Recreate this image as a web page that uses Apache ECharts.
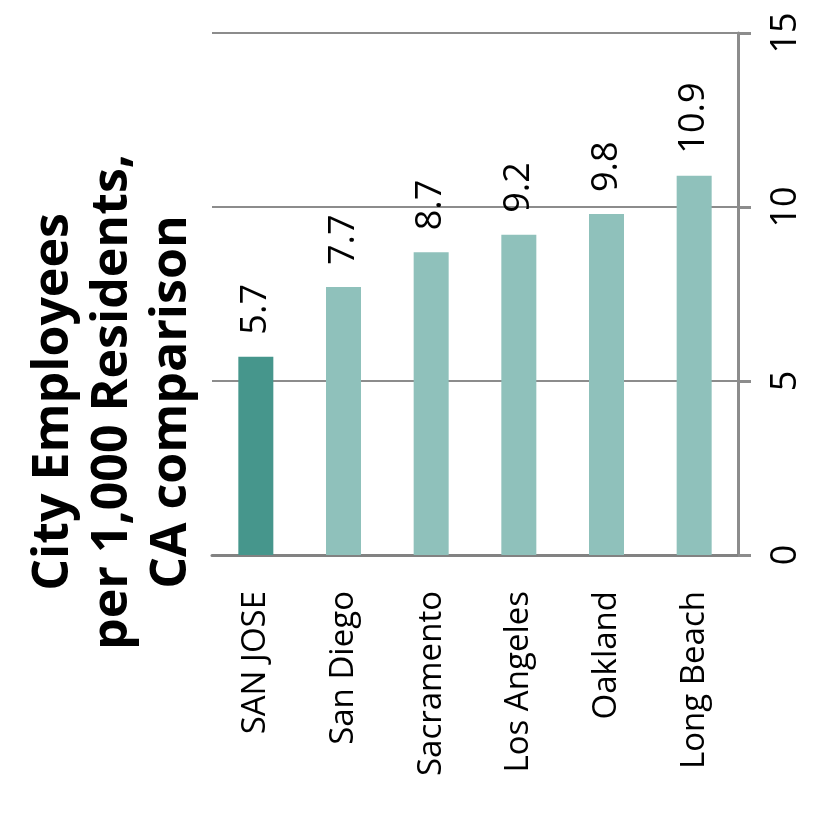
<!DOCTYPE html>
<html>
<head>
<meta charset="utf-8">
<script src="https://cdn.jsdelivr.net/npm/echarts@6/dist/echarts.min.js"></script>
<style>
  html, body { margin: 0; padding: 0; background: #ffffff; }
  #chart { width: 827px; height: 831px; }
</style>
</head>
<body>
<div id="chart"></div>
<script>
// City employees per 1,000 residents, California cities
const categories = ['SAN JOSE', 'San Diego', 'Sacramento', 'Los Angeles', 'Oakland', 'Long Beach'];
const values = [5.7, 7.7, 8.7, 9.2, 9.8, 10.9];
const highlighted = 'SAN JOSE';
const valueMin = 0;
const valueMax = 15;
const valueStep = 5;
const titleLines = ['City Employees', 'per 1,000 Residents,', 'CA comparison'];

const FONT = '"Open Sans", "DejaVu Sans", sans-serif';
const DARK = '#46968c';
const LIGHT = '#8fc1bb';
const GRID_GREY = '#8c8c8c';

const chart = echarts.init(document.getElementById('chart'));

chart.setOption({
  animation: false,
  backgroundColor: '#ffffff',
  grid: { left: 212, right: 89, top: 33, bottom: 276, containLabel: false },
  xAxis: {
    type: 'category',
    data: categories,
    axisLine: { show: true, lineStyle: { color: '#828282', width: 3 } },
    axisTick: { show: false },
    axisLabel: {
      rotate: 90,
      margin: 36,
      fontSize: 33,
      fontFamily: FONT,
      color: '#000000'
    },
    splitLine: { show: false }
  },
  yAxis: {
    type: 'value',
    position: 'right',
    min: valueMin,
    max: valueMax,
    interval: valueStep,
    axisLine: { show: true, lineStyle: { color: GRID_GREY, width: 3 } },
    axisTick: { show: true, length: 13, lineStyle: { color: GRID_GREY, width: 3 } },
    splitLine: { show: true, lineStyle: { color: GRID_GREY, width: 2 } },
    axisLabel: {
      rotate: 90,
      margin: 30,
      fontSize: 36,
      fontFamily: FONT,
      color: '#000000'
    }
  },
  graphic: [{
    type: 'text',
    x: 113,
    y: 402,
    rotation: Math.PI / 2,
    style: {
      text: titleLines.join('\n'),
      fontSize: 50,
      fontWeight: 'bold',
      fontFamily: FONT,
      fill: '#000000',
      align: 'center',
      verticalAlign: 'middle',
      lineHeight: 59
    }
  }],
  series: [{
    type: 'bar',
    barWidth: 35,
    data: values.map((v, i) => ({
      value: v,
      itemStyle: { color: categories[i] === highlighted ? DARK : LIGHT }
    })),
    label: {
      show: true,
      position: 'top',
      rotate: 90,
      align: 'left',
      verticalAlign: 'middle',
      distance: 22,
      fontSize: 36,
      fontFamily: FONT,
      color: '#000000',
      formatter: p => p.value.toFixed(1)
    }
  }]
});
</script>
</body>
</html>
